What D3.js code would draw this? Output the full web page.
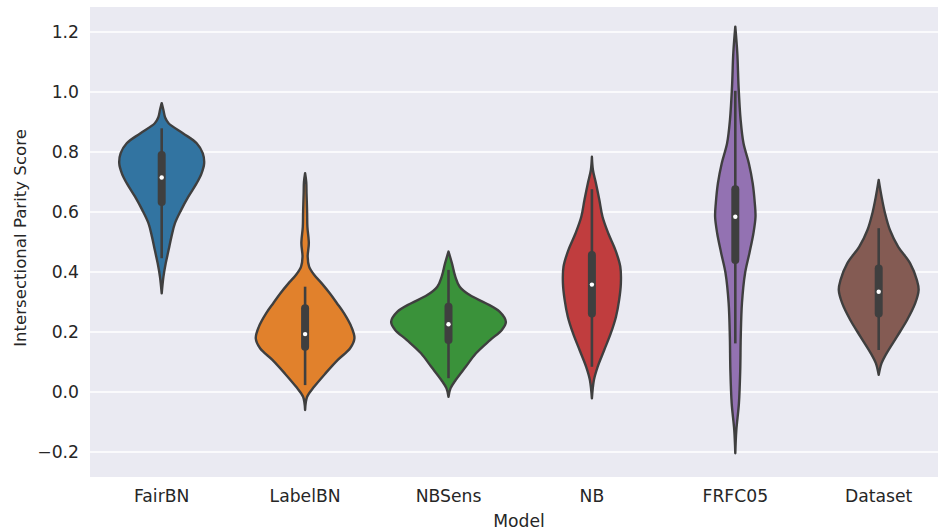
<!DOCTYPE html>
<html><head><meta charset="utf-8">
<script src="https://cdn.jsdelivr.net/npm/d3@7"></script>
<style>body{margin:0;background:#fff;overflow:hidden;} text{font-family:"DejaVu Sans",sans-serif;fill:#262626;}</style>
</head><body><svg id="c" width="938" height="531"></svg>
<script>
const categories = ["FairBN","LabelBN","NBSens","NB","FRFC05","Dataset"];
const colors = ["#3274a1","#e1812c","#3a923a","#c03d3e","#9372b2","#845b53"];
const yTicks = [-0.2,0.0,0.2,0.4,0.6,0.8,1.0,1.2];
// density profiles: [value, relative density]
const densFairBN = [[0.963,0],[0.94,0.03],[0.915,0.06],[0.896,0.12],[0.862,0.375],[0.829,0.61],[0.796,0.715],[0.762,0.74],[0.729,0.695],[0.696,0.61],[0.651,0.465],[0.607,0.34],[0.562,0.23],[0.518,0.17],[0.473,0.12],[0.429,0.07],[0.384,0.03],[0.329,0]];
const densLabelBN = [[0.729,0],[0.70,0.02],[0.662,0.025],[0.60,0.035],[0.551,0.04],[0.496,0.065],[0.451,0.045],[0.418,0.07],[0.39,0.16],[0.362,0.29],[0.329,0.43],[0.296,0.555],[0.262,0.68],[0.218,0.805],[0.179,0.86],[0.146,0.785],[0.107,0.57],[0.062,0.355],[0.018,0.16],[-0.016,0.035],[-0.06,0]];
const densNBSens = [[0.468,0],[0.429,0.06],[0.384,0.12],[0.351,0.195],[0.323,0.37],[0.296,0.65],[0.268,0.89],[0.234,1.0],[0.207,0.93],[0.173,0.725],[0.129,0.48],[0.084,0.3],[0.04,0.125],[0.012,0.035],[-0.016,0]];
const densNB = [[0.784,0],[0.74,0.018],[0.696,0.07],[0.64,0.13],[0.584,0.185],[0.529,0.285],[0.473,0.41],[0.418,0.495],[0.362,0.505],[0.307,0.475],[0.251,0.42],[0.196,0.33],[0.14,0.215],[0.084,0.1],[0.04,0.035],[-0.021,0]];
const densFRFC05 = [[1.218,0],[1.129,0.035],[1.018,0.057],[0.907,0.093],[0.829,0.143],[0.762,0.237],[0.696,0.303],[0.629,0.34],[0.584,0.352],[0.529,0.316],[0.462,0.245],[0.396,0.17],[0.296,0.116],[0.184,0.095],[0.073,0.086],[-0.038,0.063],[-0.127,0.018],[-0.204,0]];
const densDataset = [[0.707,0],[0.651,0.05],[0.596,0.11],[0.54,0.196],[0.484,0.34],[0.429,0.548],[0.373,0.666],[0.34,0.696],[0.296,0.637],[0.24,0.495],[0.184,0.316],[0.129,0.137],[0.096,0.05],[0.057,0]];
const densities = [densFairBN,densLabelBN,densNBSens,densNB,densFRFC05,densDataset];
// box stats: [whiskerLow, q1, median, q3, whiskerHigh]
const boxFairBN = [0.446,0.633,0.715,0.79,0.879];
const boxLabelBN = [0.023,0.151,0.193,0.279,0.351];
const boxNBSens = [0.046,0.173,0.226,0.284,0.407];
const boxNB = [0.084,0.262,0.358,0.457,0.676];
const boxFRFC05 = [0.162,0.44,0.584,0.676,1.004];
const boxDataset = [0.14,0.262,0.334,0.412,0.546];
const boxes = [boxFairBN,boxLabelBN,boxNBSens,boxNB,boxFRFC05,boxDataset];

const svg = d3.select("#c");
const L=90, T=7, B=477;
const bandStep = 143.4;
const fs = "17.2px";
const x = d3.scaleBand().domain(categories).range([L, L+bandStep*categories.length]);
const y = d3.scaleLinear().domain([-0.2,1.2]).range([452,32]);
const w = d3.scaleLinear().domain([0,1]).range([0, x.bandwidth()*0.4]);

svg.append("rect").attr("x",L).attr("y",T).attr("width",938-L).attr("height",B-T).attr("fill","#eaeaf2");
svg.append("g").selectAll("line").data(yTicks).join("line")
  .attr("x1",L).attr("x2",938).attr("y1",d=>y(d)).attr("y2",d=>y(d))
  .attr("stroke","#fff").attr("stroke-width",1.3);

const yAxis = svg.append("g").attr("transform",`translate(${L},0)`)
  .call(d3.axisLeft(y).tickValues(yTicks).tickSize(0).tickPadding(11).tickFormat(d=>d3.format(".1f")(d).replace("-","\u2212")));
yAxis.select(".domain").remove();
yAxis.selectAll("text").style("font-size",fs).style("fill","#262626").style("font-family","DejaVu Sans");

const xAxis = svg.append("g").attr("transform",`translate(0,${B})`)
  .call(d3.axisBottom(x).tickSize(0).tickPadding(13));
xAxis.select(".domain").remove();
xAxis.selectAll("text").style("font-size",fs).style("fill","#262626").style("font-family","DejaVu Sans");

categories.forEach((c,i)=>{
  const cx = x(c)+x.bandwidth()/2;
  const area = d3.area().curve(d3.curveCatmullRom)
    .y(d=>y(d[0])).x0(d=>cx-w(d[1])).x1(d=>cx+w(d[1]));
  svg.append("path").datum(densities[i]).attr("d",area)
    .attr("fill",colors[i]).attr("stroke","#3f3f3f").attr("stroke-width",2.4).attr("stroke-linejoin","round");
  const b = boxes[i];
  svg.append("line").attr("x1",cx).attr("x2",cx).attr("y1",y(b[0])).attr("y2",y(b[4]))
    .attr("stroke","#3f3f3f").attr("stroke-width",2.6);
  svg.append("line").attr("x1",cx).attr("x2",cx).attr("y1",y(b[1])).attr("y2",y(b[3]))
    .attr("stroke","#3f3f3f").attr("stroke-width",8).attr("stroke-linecap","round");
  svg.append("circle").attr("cx",cx).attr("cy",y(b[2])).attr("r",2.2).attr("fill","#fff");
});

svg.append("text").attr("x",(L+938)/2+5).attr("y",527).attr("text-anchor","middle").style("font-size",fs).text("Model");
svg.append("text").attr("transform",`translate(26,${(T+B)/2-4}) rotate(-90)`).attr("text-anchor","middle").style("font-size","16.6px").text("Intersectional Parity Score");
</script></body></html>
